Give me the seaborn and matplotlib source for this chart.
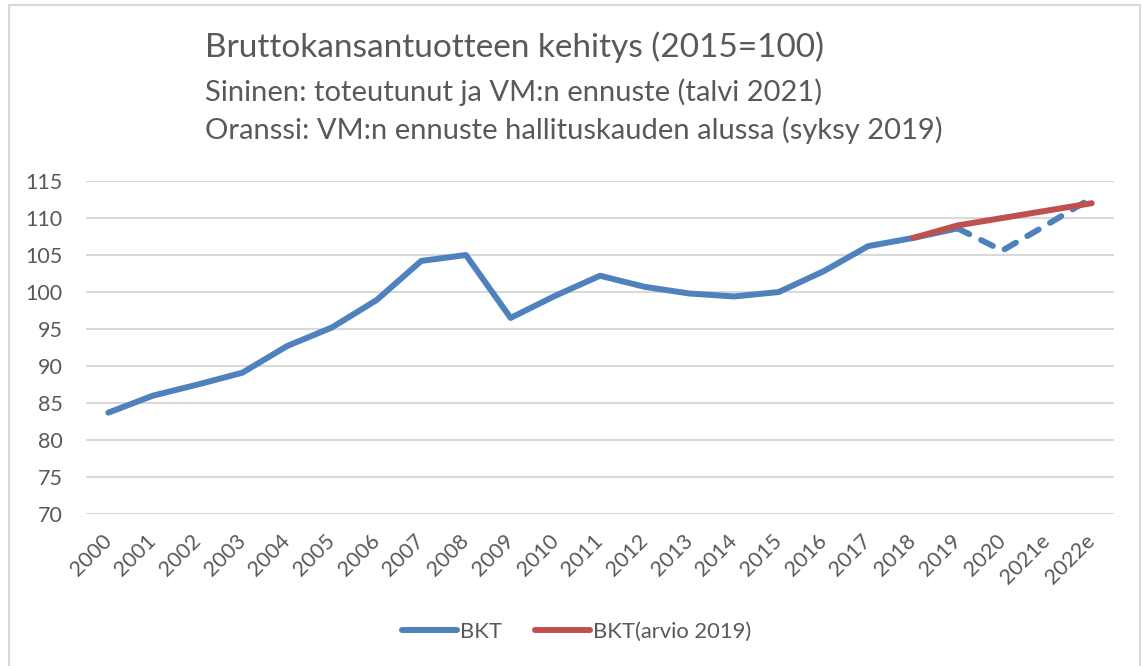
import numpy as np
import pandas as pd
import seaborn as sns
from matplotlib import pyplot as plt
from matplotlib.patches import Rectangle
from matplotlib.lines import Line2D

years = ['2000', '2001', '2002', '2003', '2004', '2005', '2006', '2007', '2008',
         '2009', '2010', '2011', '2012', '2013', '2014', '2015', '2016', '2017',
         '2018', '2019', '2020', '2021e', '2022e']
bkt = [83.7, 86.0, 87.5, 89.1, 92.7, 95.2, 98.9, 104.2, 105.0,
       96.5, 99.5, 102.2, 100.7, 99.8, 99.4, 100.0, 102.8, 106.2,
       107.3, 108.6, 105.6, 109.1, 112.7]
arvio_years = ['2018', '2019', '2020', '2021e', '2022e']
arvio = [107.3, 109.0, 110.0, 111.0, 112.0]

blue = '#4F81BD'
red = '#C0504D'
txt = '#595959'

sns.set_style('white')
plt.rcParams['font.family'] = ['Lato', 'DejaVu Sans']

df = pd.DataFrame({'vuosi': years, 'BKT': bkt})
df['pos'] = range(len(years))
df_arvio = pd.DataFrame({'vuosi': arvio_years, 'arvio': arvio})
df_arvio['pos'] = df_arvio.vuosi.map(dict(zip(years, range(len(years)))))

toteutunut = df[df.pos <= years.index('2019')]
ennuste = df[df.pos >= years.index('2019')]

fig = plt.figure(figsize=(11.42, 6.66), dpi=100)
ax = fig.add_axes([0.0753, 0.2282, 0.9002, 0.5])

lw = 4.3
sns.lineplot(data=toteutunut, x='pos', y='BKT', color=blue, lw=lw, ax=ax,
             sort=False, solid_capstyle='round', solid_joinstyle='round')
sns.lineplot(data=ennuste, x='pos', y='BKT', color=blue, lw=lw, ax=ax,
             sort=False, dash_capstyle='round', linestyle=(0, (2.2, 2.2)))
sns.lineplot(data=df_arvio, x='pos', y='arvio', color=red, lw=lw, ax=ax,
             sort=False, solid_capstyle='round')

ax.set_xlim(-0.5, len(years) - 0.5)
ax.set_ylim(70, 115)
ax.set_yticks(range(70, 116, 5))
ax.set_xticks(range(len(years)))
ax.set_xticklabels(years, rotation=45, ha='right', va='center',
                   rotation_mode='anchor')
ax.tick_params(axis='x', pad=17, length=0, labelsize=15.5, colors=txt)
ax.tick_params(axis='y', pad=17, length=0, labelsize=15.5, colors=txt)
ax.grid(axis='y', color='#D9D9D9', lw=1.5)
ax.set_axisbelow(True)
for s in ax.spines.values():
    s.set_visible(False)
ax.set_xlabel('')
ax.set_ylabel('')

handles = [Line2D([], [], color=blue, lw=lw, solid_capstyle='round'),
           Line2D([], [], color=red, lw=lw, solid_capstyle='round')]
fig.legend(handles, ['BKT', 'BKT(arvio 2019)'], loc='center',
           bbox_to_anchor=(0.505, 1 - 632 / 666), ncol=2, frameon=False,
           fontsize=15.8, labelcolor=txt, handlelength=2.5, handletextpad=0.15,
           columnspacing=1.5)

fig.text(205 / 1142, 1 - 47 / 666, 'Bruttokansantuotteen kehitys (2015=100)',
         fontsize=24, color=txt, va='center')
fig.text(205 / 1142, 1 - 92 / 666, 'Sininen: toteutunut ja VM:n ennuste (talvi 2021)',
         fontsize=21, color=txt, va='center')
fig.text(205 / 1142, 1 - 130 / 666,
         'Oranssi: VM:n ennuste hallituskauden alussa (syksy 2019)',
         fontsize=21, color=txt, va='center')

fig.patches.append(Rectangle((9 / 1142, -0.01), 1131 / 1142, 1.01 - 5 / 666,
                             transform=fig.transFigure, fill=False,
                             ec='#D9D9D9', lw=1.5))

fig.savefig('out.png', dpi=100)
